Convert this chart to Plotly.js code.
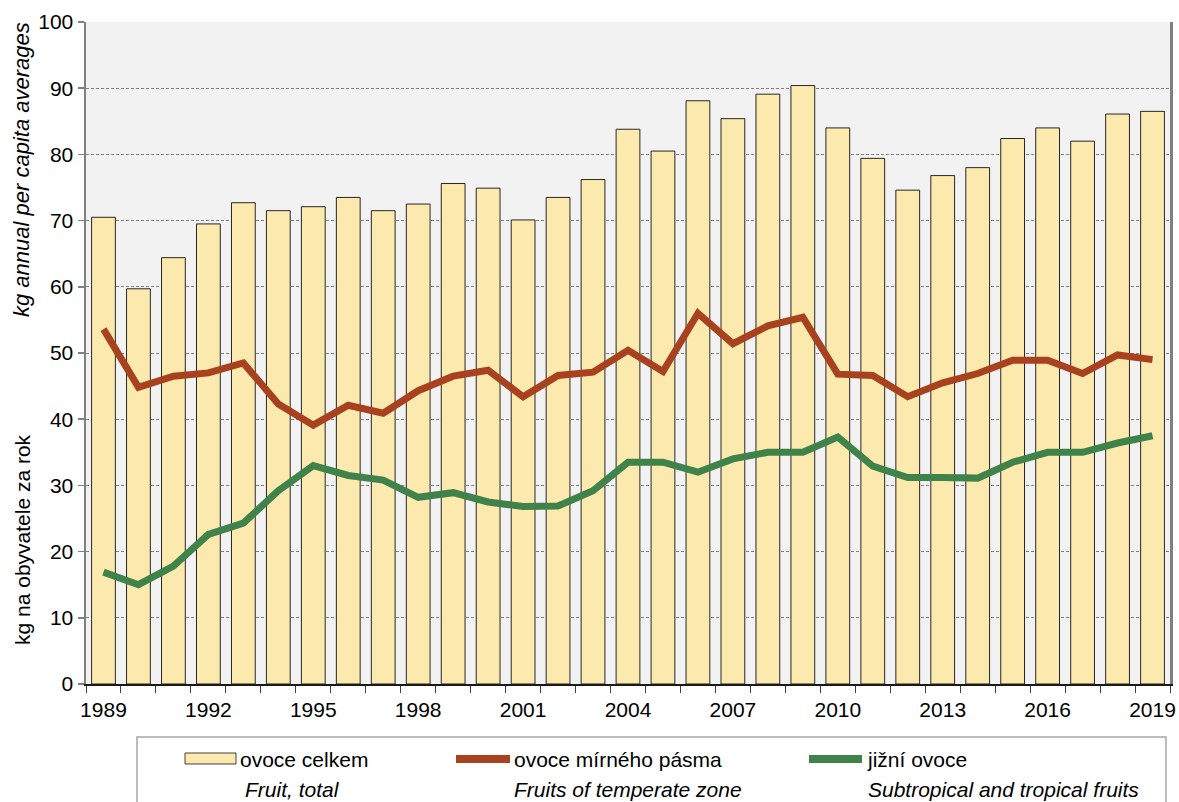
<!DOCTYPE html>
<html>
<head>
<meta charset="utf-8">
<script src="https://cdn.plot.ly/plotly-3.0.1.min.js"></script>
<style>html,body{margin:0;padding:0;background:#fff;}#chart{width:1179px;height:802px;}</style>
</head>
<body>
<div id="chart"></div>
<script>
const years = [1989,1990,1991,1992,1993,1994,1995,1996,1997,1998,1999,2000,2001,2002,2003,2004,2005,2006,2007,2008,2009,2010,2011,2012,2013,2014,2015,2016,2017,2018,2019];
const fruitTotal = [70.5,59.7,64.4,69.5,72.7,71.5,72.1,73.5,71.5,72.5,75.6,74.9,70.1,73.5,76.2,83.8,80.5,88.1,85.4,89.1,90.4,84.0,79.4,74.6,76.8,78.0,82.4,84.0,82.0,86.1,86.5];
const temperate = [53.6,44.8,46.5,47.0,48.5,42.3,39.1,42.1,40.9,44.3,46.5,47.4,43.4,46.6,47.1,50.4,47.2,56.0,51.4,54.1,55.4,46.8,46.6,43.4,45.5,46.9,48.9,48.9,46.9,49.7,49.0];
const tropical = [16.9,15.0,17.8,22.6,24.3,29.2,33.0,31.5,30.8,28.2,28.9,27.5,26.8,26.9,29.2,33.5,33.5,32.0,34.0,35.0,35.0,37.3,32.9,31.2,31.2,31.1,33.5,35.0,35.0,36.4,37.5];
const xTickLabels = ["1989","1992","1995","1998","2001","2004","2007","2010","2013","2016","2019"];
const seriesNames = ["ovoce celkem","ovoce mírného pásma","jižní ovoce"];
const seriesNamesEn = ["Fruit, total","Fruits of temperate zone","Subtropical and tropical fruits"];
const yTitleCz = "kg na obyvatele za rok";
const yTitleEn = "kg annual per capita averages";

const W = 1179, H = 802;
const M = {l: 86, r: 9, t: 22, b: 118};
const PW = W - M.l - M.r, PH = H - M.t - M.b;
const px = x => (x - M.l) / PW;
const py = y => (M.t + PH - y) / PH;

const colors = {bar: '#FCE9AD', red: '#A8421E', green: '#40834A'};
const font = 'Liberation Sans, Arial, sans-serif';
const FS = 21;

const boundaries = years.map(y => y - 0.5).concat([years[years.length - 1] + 0.5]);

const traces = [
  {type: 'bar', x: years, y: fruitTotal, name: seriesNames[0], width: 0.68,
   marker: {color: colors.bar, line: {color: '#262626', width: 1}}, hoverinfo: 'x+y'},
  {type: 'scatter', mode: 'lines', x: years, y: temperate, name: seriesNames[1],
   line: {color: colors.red, width: 7}},
  {type: 'scatter', mode: 'lines', x: years, y: tropical, name: seriesNames[2],
   line: {color: colors.green, width: 7}}
];

const legendY1 = 759, legendY2 = 789;
const shapes = [
  {type: 'rect', xref: 'paper', yref: 'paper', x0: px(137), x1: px(1166), y0: py(737), y1: py(812),
   line: {color: '#A6A6A6', width: 1.5}, fillcolor: 'rgba(0,0,0,0)'},
  {type: 'rect', xref: 'paper', yref: 'paper', x0: px(185), x1: px(236), y0: py(764), y1: py(753),
   line: {color: '#404040', width: 1}, fillcolor: colors.bar},
  {type: 'line', xref: 'paper', yref: 'paper', x0: px(456), x1: px(510), y0: py(legendY1), y1: py(legendY1),
   line: {color: colors.red, width: 8}},
  {type: 'line', xref: 'paper', yref: 'paper', x0: px(809), x1: px(862), y0: py(legendY1), y1: py(legendY1),
   line: {color: colors.green, width: 8}}
];

const ann = (text, x, y, italic) => ({
  text: text, xref: 'paper', yref: 'paper', x: px(x), y: py(y), xanchor: 'left', yanchor: 'middle',
  showarrow: false, font: {family: font, size: FS, color: '#000', style: italic ? 'italic' : 'normal'}
});

const annotations = [
  ann(seriesNames[0], 238, legendY1, false),
  ann(seriesNames[1], 512, legendY1, false),
  ann(seriesNames[2], 865, legendY1, false),
  ann(seriesNamesEn[0], 243, legendY2, true),
  ann(seriesNamesEn[1], 512, legendY2, true),
  ann(seriesNamesEn[2], 866, legendY2, true),
  {text: yTitleEn, xref: 'paper', yref: 'paper', x: px(21), y: py(170), xanchor: 'center', yanchor: 'middle',
   textangle: -90, showarrow: false, font: {family: font, size: 22, color: '#000', style: 'italic'}},
  {text: yTitleCz, xref: 'paper', yref: 'paper', x: px(22), y: py(540), xanchor: 'center', yanchor: 'middle',
   textangle: -90, showarrow: false, font: {family: font, size: 21, color: '#000'}}
];

const layout = {
  width: W, height: H,
  margin: M,
  paper_bgcolor: '#FFFFFF',
  plot_bgcolor: '#F2F2F2',
  showlegend: false,
  font: {family: font, size: FS, color: '#000'},
  xaxis: {
    range: [years[0] - 0.5, years[years.length - 1] + 0.5],
    tickmode: 'array', tickvals: xTickLabels.map(Number), ticktext: xTickLabels,
    ticks: '', showgrid: false, zeroline: false, ticklabelstandoff: 6,
    showline: true, linecolor: '#1a1a1a', linewidth: 1.5,
    tickfont: {family: font, size: FS, color: '#000'},
    minor: {tickmode: 'array', tickvals: boundaries, ticks: 'outside', ticklen: 7, tickcolor: '#404040', tickwidth: 1, showgrid: false}
  },
  yaxis: {
    range: [0, 100], dtick: 10, tick0: 0,
    ticks: 'outside', ticklen: 6, tickcolor: '#808080', tickwidth: 1.5,
    showline: true, linecolor: '#808080', linewidth: 2.5, mirror: true,
    showgrid: true, gridcolor: '#7F7F7F', gridwidth: 1, griddash: '3px,2px',
    zeroline: false,
    tickfont: {family: font, size: FS, color: '#000'}
  },
  shapes: shapes,
  annotations: annotations
};

Plotly.newPlot('chart', traces, layout, {displayModeBar: false, staticPlot: true});
</script>
</body>
</html>
